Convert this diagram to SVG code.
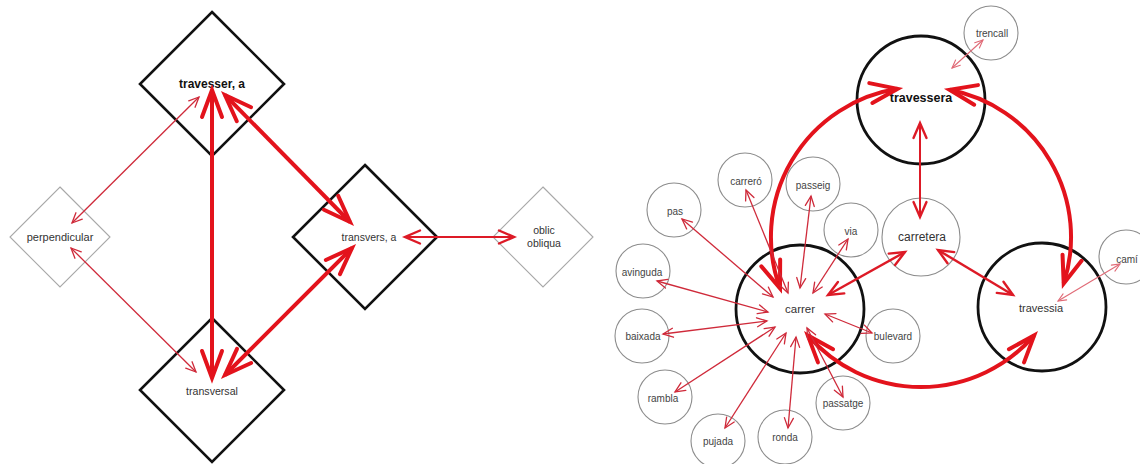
<svg xmlns="http://www.w3.org/2000/svg" width="1140" height="464" viewBox="0 0 1140 464">
<style>
  .bg{fill:#ffffff}
  .dk{fill:#ffffff;stroke:#111;stroke-width:2.6}
  .lt{fill:#ffffff;stroke:#a8a8a8;stroke-width:1.1}
  .cb{fill:none;stroke:#111;stroke-width:2.8}
  .cg{fill:#ffffff;stroke:#8c8c8c;stroke-width:1.1}
  text{font-family:"Liberation Sans",Arial,sans-serif;text-anchor:middle;dominant-baseline:central;fill:#333}
  .b{font-weight:bold;fill:#111;font-size:12.5px}
  .m{font-size:11.5px}
  .s{font-size:10px;fill:#444}
  .thick{fill:none;stroke:#e3131c;stroke-width:4;marker-start:url(#hK);marker-end:url(#hK)}
  .med{fill:none;stroke:#dd1a26;stroke-width:2.4;marker-start:url(#hM);marker-end:url(#hM)}
  .thin{fill:none;stroke:#cf2a3a;stroke-width:1.3;marker-start:url(#hT);marker-end:url(#hT)}
  .faint{fill:none;stroke:#e06a76;stroke-width:1.1;marker-start:url(#hF);marker-end:url(#hF)}
</style>
<defs>
  <marker id="hK" markerUnits="userSpaceOnUse" orient="auto-start-reverse" refX="0" refY="0" markerWidth="40" markerHeight="40" overflow="visible">
    <path d="M-27,-10 L0,0 L-27,10" fill="none" stroke="#e3131c" stroke-width="4" stroke-linecap="round"/>
  </marker>
  <marker id="hM" markerUnits="userSpaceOnUse" orient="auto-start-reverse" refX="0" refY="0" markerWidth="30" markerHeight="30" overflow="visible">
    <path d="M-15,-6.5 L0,0 L-15,6.5" fill="none" stroke="#dd1a26" stroke-width="2.4" stroke-linecap="round"/>
  </marker>
  <marker id="hT" markerUnits="userSpaceOnUse" orient="auto-start-reverse" refX="0" refY="0" markerWidth="20" markerHeight="20" overflow="visible">
    <path d="M-10,-4.5 L0,0 L-10,4.5" fill="none" stroke="#cf2a3a" stroke-width="1.3" stroke-linecap="round"/>
  </marker>
  <marker id="hF" markerUnits="userSpaceOnUse" orient="auto-start-reverse" refX="0" refY="0" markerWidth="20" markerHeight="20" overflow="visible">
    <path d="M-8,-3.5 L0,0 L-8,3.5" fill="none" stroke="#e06a76" stroke-width="1.1" stroke-linecap="round"/>
  </marker>
</defs>
<rect class="bg" x="0" y="0" width="1140" height="464"/>

<!-- left diagram nodes -->
<g id="n-travesser"><polygon class="dk" points="212,12 284,84 212,156 140,84"/><text class="b" x="212" y="84" style="font-size:12px">travesser, a</text></g>
<g id="n-transversal"><polygon class="dk" points="212,318 284,390 212,462 140,390"/><text class="m" x="212" y="391" style="font-size:10.6px">transversal</text></g>
<g id="n-transvers"><polygon class="dk" points="365,165 437,237 365,309 293,237"/><text class="m" x="369" y="237" style="font-size:10.5px">transvers, a</text></g>
<g id="n-perpendicular"><polygon class="lt" points="60,187 110,237 60,287 10,237"/><text class="m" x="60" y="237" style="font-size:11px">perpendicular</text></g>
<g id="n-oblic"><polygon class="lt" points="543,187 593,237 543,287 493,237"/><text class="m" x="544" y="230" style="font-size:10.5px">oblic</text><text class="m" x="544" y="243" style="font-size:10.5px">obliqua</text></g>

<!-- right diagram nodes -->
<g id="n-carretera"><circle class="cg" cx="921" cy="237" r="39"/><text class="m" x="922" y="237" style="font-size:12px">carretera</text></g>
<g id="n-travessera"><circle class="cb" cx="921" cy="100" r="64"/><text class="b" x="921" y="98">travessera</text></g>
<g id="n-carrer"><circle class="cb" cx="800" cy="309" r="64"/><text class="m" x="800" y="309">carrer</text></g>
<g id="n-travessia"><circle class="cb" cx="1042" cy="307" r="64"/><text class="m" x="1041" y="308" style="font-size:11px">travessia</text></g>
<g id="n-trencall"><circle class="cg" cx="991" cy="33" r="27"/><text class="s" x="992" y="33">trencall</text></g>
<g id="n-carrero"><circle class="cg" cx="745" cy="180" r="27"/><text class="s" x="746" y="181">carreró</text></g>
<g id="n-passeig"><circle class="cg" cx="813" cy="184" r="27"/><text class="s" x="813" y="185">passeig</text></g>
<g id="n-pas"><circle class="cg" cx="674" cy="210" r="27"/><text class="s" x="675" y="211">pas</text></g>
<g id="n-via"><circle class="cg" cx="851" cy="230" r="27"/><text class="s" x="851" y="231">via</text></g>
<g id="n-avinguda"><circle class="cg" cx="643" cy="271" r="27"/><text class="s" x="642" y="272">avinguda</text></g>
<g id="n-baixada"><circle class="cg" cx="642" cy="336" r="27"/><text class="s" x="643" y="336">baixada</text></g>
<g id="n-rambla"><circle class="cg" cx="665" cy="397" r="27"/><text class="s" x="663" y="398">rambla</text></g>
<g id="n-pujada"><circle class="cg" cx="718" cy="441" r="27"/><text class="s" x="718" y="441">pujada</text></g>
<g id="n-ronda"><circle class="cg" cx="785" cy="437" r="27"/><text class="s" x="785" y="437">ronda</text></g>
<g id="n-passatge"><circle class="cg" cx="843" cy="403" r="27"/><text class="s" x="843" y="403">passatge</text></g>
<g id="n-bulevard"><circle class="cg" cx="893" cy="336" r="27"/><text class="s" x="893" y="336">bulevard</text></g>
<g id="n-cami"><circle class="cg" cx="1126" cy="257" r="27"/><text class="s" x="1127" y="259">camí</text></g>

<!-- connectors -->
<g id="connectors">
  <line class="thick" x1="212" y1="90" x2="212" y2="378"/>
  <line class="thick" x1="225" y1="95" x2="350" y2="222"/>
  <line class="thick" x1="352" y1="248" x2="225" y2="375"/>
  <line class="thin" x1="199" y1="97" x2="72" y2="223"/>
  <line class="thin" x1="71" y1="248" x2="196" y2="372"/>
  <line class="med" style="stroke-width:1.8" x1="405" y1="237" x2="514" y2="237"/>

  <path class="thick" d="M780,288.3 A150,150 0 0 1 897.5,88.8"/>
  <path class="thick" d="M949.6,89.8 A150,150 0 0 1 1063.7,283.4"/>
  <path class="thick" d="M1034.2,335.4 A150,150 0 0 1 807.8,335.4"/>

  <line class="med" style="stroke-width:2" x1="920" y1="123" x2="920" y2="217"/>
  <line class="med" x1="828" y1="295" x2="905" y2="252"/>
  <line class="med" x1="938" y1="250" x2="1013" y2="295"/>

  <line class="faint" x1="983" y1="40" x2="952" y2="68"/>
  <line class="faint" x1="1120" y1="264" x2="1058" y2="301"/>

  <line class="thin" x1="682" y1="219" x2="773" y2="297"/>
  <line class="thin" x1="746" y1="190" x2="788" y2="293"/>
  <line class="thin" x1="811" y1="196" x2="800" y2="288"/>
  <line class="thin" x1="848" y1="239" x2="813" y2="293"/>
  <line class="thin" x1="657" y1="281" x2="768" y2="312"/>
  <line class="thin" x1="767" y1="321" x2="663" y2="334"/>
  <line class="thin" x1="775" y1="327" x2="675" y2="392"/>
  <line class="thin" x1="786" y1="333" x2="725" y2="428"/>
  <line class="thin" x1="796" y1="337" x2="788" y2="428"/>
  <line class="thin" x1="807" y1="328" x2="843" y2="397"/>
  <line class="thin" x1="825" y1="314" x2="872" y2="333"/>
</g>
</svg>
